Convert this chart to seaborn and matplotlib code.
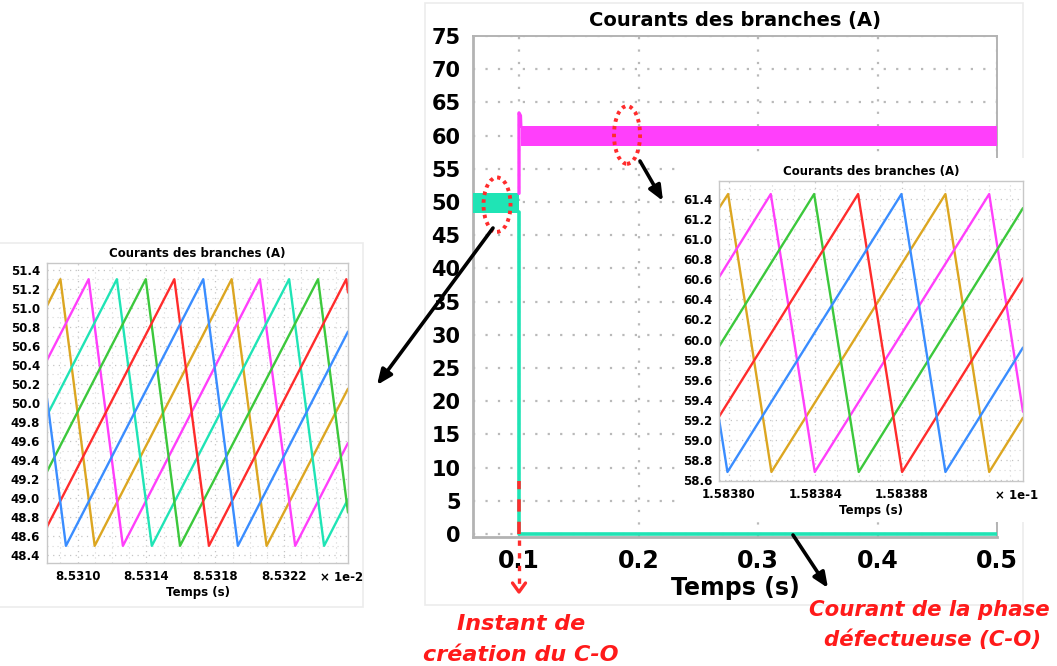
import numpy as np
import pandas as pd
import matplotlib
matplotlib.use("Agg")
import matplotlib.pyplot as plt
import seaborn as sns
from matplotlib.patches import Ellipse, Rectangle
from matplotlib.lines import Line2D
from matplotlib.ticker import FixedLocator, MultipleLocator, FormatStrFormatter

# ---------------------------------------------------------------------------
# Branch currents of the six-phase interleaved converter (A)
# ---------------------------------------------------------------------------
# Full simulation: healthy regime, then open-circuit (C-O) fault at t = 0.1 s
t_pre = [0.0615, 0.1]
i_pre_min = [48.4, 48.4]
i_pre_max = [51.4, 51.4]

t_post = [0.1015, 0.5]
i_post_min = [58.5, 58.5]
i_post_max = [61.5, 61.5]

t_overshoot = [0.1, 0.1, 0.1012, 0.1015]
i_overshoot = [51.3, 63.4, 63.0, 61.4]

t_faulty = [0.1, 0.1, 0.5]
i_faulty = [48.5, 0.0, 0.0]

t_fault = 0.1

# Zoom before the fault (time in units of 1e-2 s)
z1_t_yellow = [8.530822, 8.530900, 8.531099, 8.531895, 8.532098, 8.532571]
z1_i_yellow = [51.02, 51.30, 48.50, 51.30, 48.50, 50.15]
z1_t_magenta = [8.530822, 8.531064, 8.531263, 8.532059, 8.532264, 8.532571]
z1_i_magenta = [50.45, 51.30, 48.50, 51.30, 48.50, 49.58]
z1_t_teal = [8.530822, 8.531228, 8.531431, 8.532229, 8.532432, 8.532571]
z1_i_teal = [49.87, 51.30, 48.50, 51.30, 48.50, 48.99]
z1_t_green = [8.530822, 8.531396, 8.531595, 8.532397, 8.532571]
z1_i_green = [49.28, 51.30, 48.50, 51.30, 48.85]
z1_t_red = [8.530822, 8.531562, 8.531763, 8.532561, 8.532571]
z1_i_red = [48.70, 51.30, 48.50, 51.30, 51.16]
z1_t_blue = [8.530822, 8.530932, 8.531730, 8.531931, 8.532571]
z1_i_blue = [50.05, 48.50, 51.30, 48.50, 50.75]

# Zoom after the fault (time in units of 1e-1 s), five healthy branches
z2_t_yellow = [1.5837955, 1.5837997, 1.5838197, 1.5839000, 1.5839202, 1.5839358]
z2_i_yellow = [61.31, 61.45, 58.68, 61.45, 58.68, 59.22]
z2_t_magenta = [1.5837955, 1.5838194, 1.5838397, 1.5839202, 1.5839358]
z2_i_magenta = [60.62, 61.45, 58.68, 61.45, 59.28]
z2_t_green = [1.5837955, 1.5838394, 1.5838600, 1.5839358]
z2_i_green = [59.93, 61.45, 58.68, 61.31]
z2_t_red = [1.5837955, 1.5838597, 1.5838800, 1.5839358]
z2_i_red = [59.23, 61.45, 58.68, 60.61]
z2_t_blue = [1.5837955, 1.5837994, 1.5838797, 1.5839000, 1.5839358]
z2_i_blue = [59.21, 58.68, 61.45, 58.68, 59.92]

main_xticks = [0.1, 0.2, 0.3, 0.4, 0.5]
main_xticklabels = ["0.1", "0.2", "0.3", "0.4", "0.5"]
main_yticks = list(range(0, 80, 5))
z1_xticks = [8.5310, 8.5314, 8.5318, 8.5322]
z2_xticks = [1.58380, 1.58384, 1.58388]

TITLE = "Courants des branches (A)"
XLABEL = "Temps (s)"

COL = {
    "yellow": "#dca621",
    "magenta": "#ff3ffb",
    "teal": "#1fe4b5",
    "green": "#3cc83c",
    "red": "#ff2c2c",
    "blue": "#3a8dff",
}
RED_TXT = "#ff1a1a"
GRID = "#b9b9b9"
SPINE = "#b3b3b3"

sns.set_theme(style="white")
plt.rcParams["font.family"] = ["DejaVu Sans"]
plt.rcParams["text.color"] = "black"
plt.rcParams["axes.labelcolor"] = "black"
plt.rcParams["xtick.labelcolor"] = "black"
plt.rcParams["ytick.labelcolor"] = "black"

W, H = 1057, 666
fig = plt.figure(figsize=(W / 100, H / 100), dpi=100)
fig.patch.set_facecolor("white")


def rect(x0, y0, x1, y1):
    """Pixel box (top-left origin) -> figure-fraction [l, b, w, h]."""
    return [x0 / W, 1 - y1 / H, (x1 - x0) / W, (y1 - y0) / H]


def fpx(x, y):
    """Pixel point (top-left origin) -> figure pixels."""
    return (x, H - y)


# faint frames around the two exported plot windows
for (x0, y0, x1, y1) in [(425, 3, 1023, 605), (-2, 243, 363, 607)]:
    l, b, w, h = rect(x0, y0, x1, y1)
    fig.add_artist(Rectangle((l, b), w, h, transform=fig.transFigure,
                             facecolor="none", edgecolor="#ececec", lw=1.2, zorder=0.1))

# ---------------------------------------------------------------------------
# Main plot
# ---------------------------------------------------------------------------
ax = fig.add_axes(rect(473, 36, 997, 537))
ax.set_zorder(0.5)
ax.set_xlim(0.0615, 0.5)
ax.set_ylim(-0.45, 75)

ax.fill_between(t_pre, i_pre_min, i_pre_max, color=COL["teal"], lw=0, zorder=3)
ax.fill_between(t_post, i_post_min, i_post_max, color=COL["magenta"], lw=0, zorder=3)
sns.lineplot(x=t_overshoot, y=i_overshoot, color=COL["magenta"], lw=2.4,
             estimator=None, sort=False, ax=ax, zorder=3)
sns.lineplot(x=t_faulty, y=i_faulty, color=COL["teal"], lw=2.6,
             estimator=None, sort=False, ax=ax, zorder=4)
# fault instant marker
sns.lineplot(x=[t_fault, t_fault], y=[0, 8], color=COL["red"], lw=2.6,
             linestyle=(0, (3.4, 2.8)), estimator=None, sort=False, ax=ax, zorder=5)

ax.xaxis.set_major_locator(FixedLocator(main_xticks))
ax.set_xticklabels(main_xticklabels)
ax.yaxis.set_major_locator(FixedLocator(main_yticks))
ax.grid(True, color=GRID, linestyle=(0, (1, 4.6)), lw=1.6)
ax.set_axisbelow(True)
for s in ["left", "bottom"]:
    ax.spines[s].set_color(SPINE)
    ax.spines[s].set_linewidth(2.0)
for s in ["top", "right"]:
    ax.spines[s].set_color(SPINE)
    ax.spines[s].set_linewidth(1.4)
ax.tick_params(axis="y", which="major", direction="out", length=7, width=1.8,
               color=SPINE, labelsize=15, pad=2)
ax.tick_params(axis="x", which="major", direction="out", length=4, width=1.5,
               color=SPINE, labelsize=17, pad=5)
for lab in ax.get_xticklabels() + ax.get_yticklabels():
    lab.set_fontweight("bold")
ax.set_xlabel(XLABEL, fontsize=17, fontweight="bold", labelpad=2)
ax.set_ylabel("")
ax.set_title(TITLE, fontsize=14, fontweight="bold", pad=7)

# dotted circles on the zoomed regions
for (cx, cy, w, h) in [(0.0816, 49.6, 0.0226, 8.2), (0.1904, 60.1, 0.0218, 8.7)]:
    ax.add_patch(Ellipse((cx, cy), w, h, fill=False, edgecolor=COL["red"], lw=2.8,
                         linestyle=(0, (0.9, 1.1)), zorder=6, clip_on=False))

# black pointers
arrow_kw = dict(arrowstyle="-|>,head_length=0.75,head_width=0.32", color="black",
                lw=2.6, shrinkA=0, shrinkB=0)
for (p0, p1) in [((493, 228), (377, 385)), ((640, 161), (663, 201)), ((793, 535), (828, 588))]:
    ax.annotate("", xy=fpx(*p1), xytext=fpx(*p0), xycoords="figure pixels",
                textcoords="figure pixels", arrowprops=arrow_kw, annotation_clip=False,
                zorder=8)

# fault instant: dashed pointer below the time axis
fig.add_artist(Line2D([519 / W, 519 / W], [1 - 540 / H, 1 - 584 / H], transform=fig.transFigure,
                      color=COL["red"], lw=2.4, linestyle=(0, (1.6, 2.2)), zorder=9))
fig.add_artist(Line2D([512.5 / W, 519 / W, 525.5 / W], [1 - 583 / H, 1 - 592 / H, 1 - 583 / H],
                      transform=fig.transFigure, color=COL["red"], lw=2.4, zorder=9,
                      solid_capstyle="round"))

txt_kw = dict(ha="center", va="center", color=RED_TXT, fontsize=16,
              fontweight="bold", fontstyle="italic")
fig.text(521 / W, 1 - 624 / H, "Instant de", **txt_kw)
fig.text(521 / W, 1 - 655 / H, "création du C-O", **txt_kw)
fig.text(929 / W, 1 - 610 / H, "Courant de la phase", **{**txt_kw, "fontsize": 15.3})
fig.text(933 / W, 1 - 640 / H, "défectueuse (C-O)", **{**txt_kw, "fontsize": 15.3})

# white panel behind the post-fault zoom
l, b, w, h = rect(680, 158, 1040, 522)
fig.add_artist(Rectangle((l, b), w, h, transform=fig.transFigure,
                         facecolor="white", edgecolor="none", zorder=1))


# ---------------------------------------------------------------------------
# Zoom panels
# ---------------------------------------------------------------------------
def branches_frame(series):
    rows = []
    for name, ts, cs in series:
        rows += [(name, t, c) for t, c in zip(ts, cs)]
    return pd.DataFrame(rows, columns=["branche", "t", "i"])


def style_zoom(axz, xlim, ylim, xticks, yticks, xfmt, xminor, exp_label):
    axz.set_xlim(*xlim)
    axz.set_ylim(*ylim)
    axz.xaxis.set_major_locator(FixedLocator(xticks))
    axz.yaxis.set_major_locator(FixedLocator(yticks))
    axz.xaxis.set_minor_locator(MultipleLocator(xminor))
    axz.yaxis.set_minor_locator(MultipleLocator(0.1))
    axz.xaxis.set_major_formatter(FormatStrFormatter(xfmt))
    axz.yaxis.set_major_formatter(FormatStrFormatter("%.1f"))
    axz.grid(True, which="major", color="#c4c4c4", linestyle=(0, (1, 3.5)), lw=0.9)
    axz.grid(True, which="minor", color="#d6d6d6", linestyle=(0, (1, 3.5)), lw=0.8)
    axz.set_axisbelow(True)
    for s in axz.spines.values():
        s.set_color("#c8c8c8")
        s.set_linewidth(1.0)
    axz.tick_params(axis="both", which="major", direction="out", length=3, width=0.8,
                    color="#b0b0b0", labelsize=8.5, pad=2)
    axz.tick_params(axis="both", which="minor", length=0)
    for lab in axz.get_xticklabels() + axz.get_yticklabels():
        lab.set_fontweight("bold")
    axz.set_xlabel(XLABEL, fontsize=8.5, fontweight="bold", labelpad=2)
    axz.set_ylabel("")
    axz.set_title(TITLE, fontsize=8.5, fontweight="bold", pad=4)
    axz.text(1.05, -0.047, exp_label, transform=axz.transAxes, ha="right", va="center",
             fontsize=8.5, fontweight="bold")


ax1 = fig.add_axes(rect(47, 263, 348, 563))
ax1.set_zorder(2)
df1 = branches_frame([
    ("yellow", z1_t_yellow, z1_i_yellow),
    ("magenta", z1_t_magenta, z1_i_magenta),
    ("teal", z1_t_teal, z1_i_teal),
    ("green", z1_t_green, z1_i_green),
    ("red", z1_t_red, z1_i_red),
    ("blue", z1_t_blue, z1_i_blue),
])
sns.lineplot(data=df1, x="t", y="i", hue="branche", palette=COL, estimator=None,
             sort=False, legend=False, lw=1.7, ax=ax1)
style_zoom(ax1, (8.530822, 8.532571), (48.32, 51.47), z1_xticks,
           np.round(np.arange(48.4, 51.41, 0.2), 1), "%.4f", 0.0001, "× 1e-2")

ax2 = fig.add_axes(rect(719, 181, 1023, 481))
ax2.set_zorder(2)
df2 = branches_frame([
    ("yellow", z2_t_yellow, z2_i_yellow),
    ("magenta", z2_t_magenta, z2_i_magenta),
    ("green", z2_t_green, z2_i_green),
    ("red", z2_t_red, z2_i_red),
    ("blue", z2_t_blue, z2_i_blue),
])
sns.lineplot(data=df2, x="t", y="i", hue="branche", palette=COL, estimator=None,
             sort=False, legend=False, lw=1.7, ax=ax2)
style_zoom(ax2, (1.5837955, 1.5839358), (58.59, 61.58), z2_xticks,
           np.round(np.arange(58.6, 61.41, 0.2), 1), "%.5f", 0.00001, "× 1e-1")

fig.savefig("out.png", dpi=100, facecolor="white")
